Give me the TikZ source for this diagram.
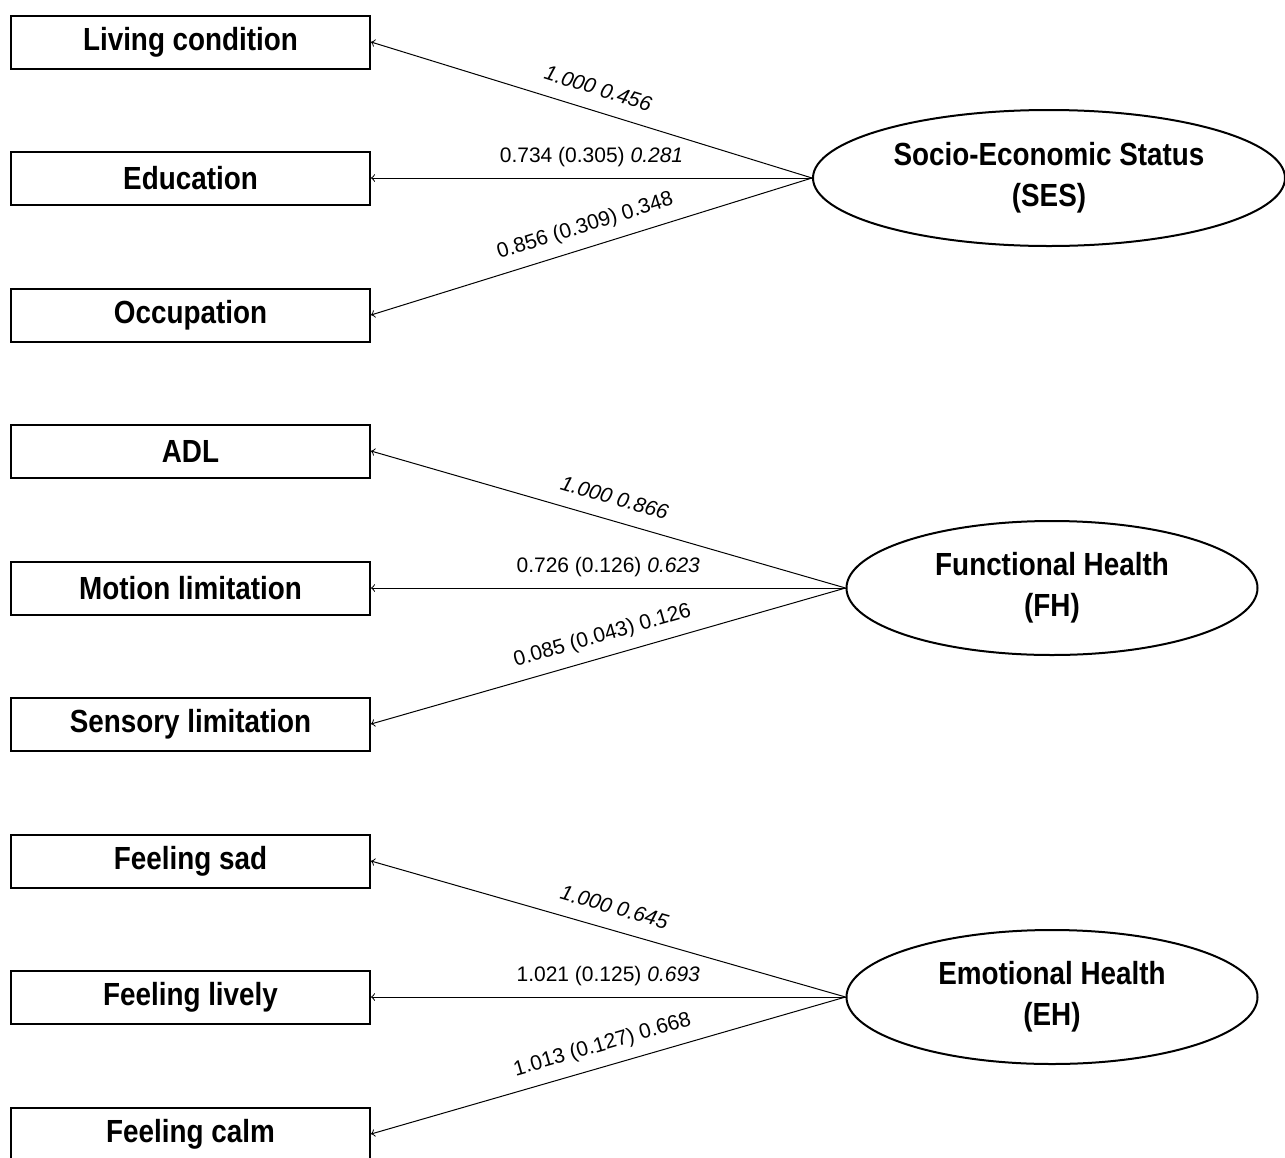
\documentclass[tikz,border=0pt]{standalone}
\usepackage{fontspec}
\setmainfont{Liberation Sans}
\newfontfamily\boxfont[FakeStretch=0.87]{Liberation Sans}
\usetikzlibrary{shapes.geometric}

\tikzset{
  indicator/.style={draw, line width=1pt, minimum width=179.5pt, minimum height=26.5pt,
    inner sep=0pt, font=\boxfont\bfseries\fontsize{16}{20}\selectfont},
  factor/.style={draw, ellipse, line width=1pt, inner sep=0pt, align=center,
    font=\boxfont\bfseries\fontsize{16}{20.5}\selectfont},
  loadarrow/.style={->, line width=0.5pt},
  loading/.style={midway, sloped, above=3pt, inner sep=2pt, text depth=2.5pt,
    font=\fontsize{10.5}{12}\selectfont}
}

\begin{document}
\begin{tikzpicture}[x=0.5pt,y=-0.5pt]
            \useasboundingbox (0,0) rectangle (1285,1157);

            % observed indicators
            \node[indicator] (living) at (190.5,42) {Living condition};
            \node[indicator] (education) at (190.5,178) {Education};
            \node[indicator] (occupation) at (190.5,315) {Occupation};
            \node[indicator] (adl) at (190.5,451) {ADL};
            \node[indicator] (motion) at (190.5,588) {Motion limitation};
            \node[indicator] (sensory) at (190.5,724) {Sensory limitation};
            \node[indicator] (sad) at (190.5,861) {Feeling sad};
            \node[indicator] (lively) at (190.5,997) {Feeling lively};
            \node[indicator] (calm) at (190.5,1134) {Feeling calm};

            % latent factors
            \node[factor, minimum width=236pt, minimum height=68pt] (ses) at (1049,178) {Socio-Economic Status\\(SES)};
            \node[factor, minimum width=205.5pt, minimum height=67pt] (fh) at (1052,588) {Functional Health\\(FH)};
            \node[factor, minimum width=205.5pt, minimum height=67pt] (eh) at (1052,997) {Emotional Health\\(EH)};

            % loadings
            \draw[loadarrow] (ses.west) -- (living.east) node[loading] {\itshape 1.000 0.456};
            \draw[loadarrow] (ses.west) -- (education.east) node[loading] {0.734 (0.305) \textit{0.281}};
            \draw[loadarrow] (ses.west) -- (occupation.east) node[loading] {0.856 (0.309) 0.348};

            \draw[loadarrow] (fh.west) -- (adl.east) node[loading] {\itshape 1.000 0.866};
            \draw[loadarrow] (fh.west) -- (motion.east) node[loading] {0.726 (0.126) \textit{0.623}};
            \draw[loadarrow] (fh.west) -- (sensory.east) node[loading] {0.085 (0.043) 0.126};

            \draw[loadarrow] (eh.west) -- (sad.east) node[loading] {\itshape 1.000 0.645};
            \draw[loadarrow] (eh.west) -- (lively.east) node[loading] {1.021 (0.125) \textit{0.693}};
            \draw[loadarrow] (eh.west) -- (calm.east) node[loading] {1.013 (0.127) 0.668};
        \end{tikzpicture}
\end{document}
